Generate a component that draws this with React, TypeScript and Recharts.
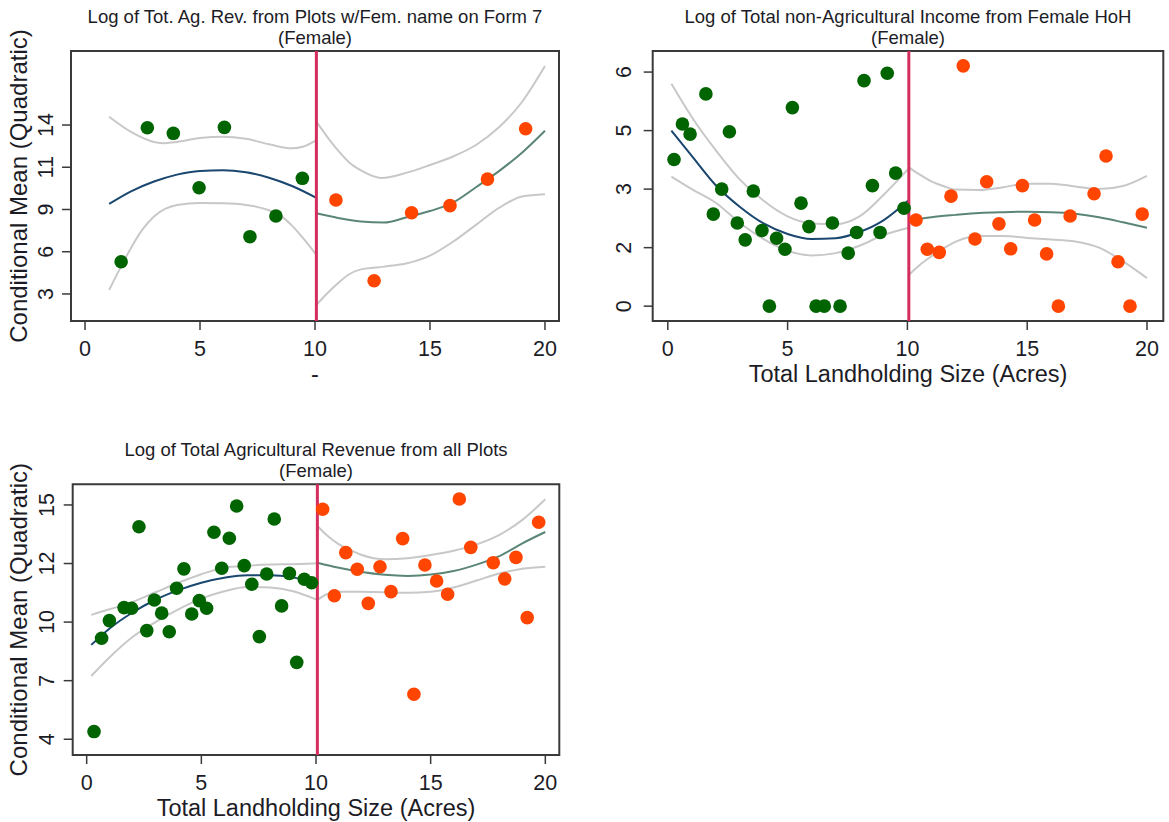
import React from 'react';
import {
  ComposedChart,
  Scatter,
  Line,
  XAxis,
  YAxis,
  ReferenceLine,
  ReferenceArea,
} from 'recharts';

const FONT = '"Liberation Sans", Arial, Helvetica, sans-serif';
const TEXT = '#1c1c26';
const GREEN = '#006400';
const ORANGE = '#ff4500';
const CUTOFF_COLOR = '#d42d5e';
const LEFT_FIT = '#1a476f';
const RIGHT_FIT = '#5b8676';
const CI = '#c8c8c8';
const FRAME = '#3a3a3a';

const Y_W = 40;
const X_H = 40;

type Pt = { x: number; y: number };
const toPts = (a: number[][]): Pt[] => a.map(([x, y]) => ({ x, y }));

const cutoff = 10.06;
const xTicks = [0, 5, 10, 15, 20];
const xTickLabels = ['0', '5', '10', '15', '20'];
const subtitle = '(Female)';
const yTitle = 'Conditional Mean (Quadratic)';
const landTitle = 'Total Landholding Size (Acres)';

// Panel 1: Log of Tot. Ag. Rev. from Plots w/Fem. name on Form 7
const p1Title = 'Log of Tot. Ag. Rev. from Plots w/Fem. name on Form 7';
const p1YTicks = [3, 5.75, 8.5, 11.25, 14];
const p1YTickLabels = ['3', '6', '9', '11', '14'];
const p1Below = [
  [1.57, 5.1], [2.71, 13.82], [3.84, 13.46], [4.96, 9.92],
  [6.06, 13.85], [7.17, 6.73], [8.3, 8.08], [9.45, 10.53],
];
const p1Above = [
  [10.91, 9.12], [12.57, 3.86], [14.2, 8.29], [15.87, 8.75], [17.5, 10.48], [19.16, 13.76],
];
const p1LeftFit = [
  [1.05, 8.86], [2, 9.68], [3, 10.32], [4, 10.77], [5, 11.01], [6, 11.06],
  [7, 10.92], [8, 10.57], [9, 10.03], [10.06, 9.26],
];
const p1LeftHi = [
  [1.05, 14.54], [2, 13.55], [3, 12.9], [3.5, 12.82], [4, 12.9], [5, 13.15], [6, 13.24],
  [7, 13.1], [8, 12.75], [9, 12.48], [9.5, 12.6], [10.06, 13.02],
];
const p1LeftLo = [
  [1.05, 3.26], [1.5, 4.6], [2, 6.0], [2.5, 7.2], [3, 8.05], [3.5, 8.55], [4, 8.8], [5, 8.92],
  [6, 8.9], [7, 8.8], [8, 8.45], [8.5, 8.1], [9, 7.45], [9.5, 6.6], [10.06, 5.54],
];
const p1RightFit = [
  [10.06, 8.25], [11, 7.95], [12, 7.72], [13, 7.65], [14, 8.0], [15, 8.4],
  [16, 8.95], [17, 9.95], [18, 11.0], [19, 12.2], [20, 13.63],
];
const p1RightHi = [
  [10.06, 14.22], [10.5, 13.3], [11, 12.35], [11.5, 11.55], [12, 11.05], [12.9, 10.55],
  [14, 10.9], [15, 11.4], [16, 11.95], [17, 12.7], [18, 13.85], [19, 15.5], [20, 17.84],
];
const p1RightLo = [
  [10.06, 2.28], [10.5, 3.0], [11, 3.7], [11.5, 4.3], [12, 4.6], [13, 4.78], [14, 5.0],
  [15, 5.5], [16, 6.4], [17, 7.5], [18, 8.6], [19, 9.35], [20, 9.5],
];

// Panel 2: Log of Total non-Agricultural Income from Female HoH
const p2Title = 'Log of Total non-Agricultural Income from Female HoH';
const p2YTicks = [0, 1.5, 3, 4.5, 6];
const p2YTickLabels = ['0', '2', '3', '5', '6'];
const p2Below = [
  [0.26, 3.76], [0.61, 4.67], [0.93, 4.41], [1.59, 5.44], [1.9, 2.36], [2.25, 3.0],
  [2.57, 4.47], [2.9, 2.13], [3.23, 1.7], [3.57, 2.95], [3.93, 1.94], [4.24, 0],
  [4.54, 1.74], [4.89, 1.46], [5.2, 5.09], [5.56, 2.64], [5.89, 2.04], [6.19, 0],
  [6.53, 0], [6.87, 2.13], [7.19, 0], [7.53, 1.36], [7.88, 1.89], [8.19, 5.78],
  [8.54, 3.09], [8.86, 1.89], [9.16, 5.97], [9.51, 3.41], [9.86, 2.51],
];
const p2Above = [
  [10.36, 2.21], [10.83, 1.46], [11.33, 1.38], [11.82, 2.82], [12.33, 6.16], [12.82, 1.72],
  [13.31, 3.19], [13.82, 2.11], [14.31, 1.47], [14.8, 3.09], [15.31, 2.21], [15.81, 1.34],
  [16.3, 0], [16.79, 2.31], [17.79, 2.88], [18.29, 3.85], [18.79, 1.14], [19.29, 0], [19.8, 2.36],
];
const p2LeftFit = [
  [0.15, 4.5], [1, 3.85], [2, 3.1], [3, 2.55], [4, 2.12], [5, 1.85],
  [6, 1.72], [7, 1.74], [8, 1.9], [9, 2.2], [10.06, 2.72],
];
const p2LeftHi = [
  [0.15, 5.7], [1, 4.85], [2, 4.0], [3, 3.25], [4, 2.7], [5, 2.3],
  [6, 2.12], [7, 2.1], [8, 2.3], [9, 2.85], [10.06, 3.53],
];
const p2LeftLo = [
  [0.15, 3.32], [1, 3.0], [2, 2.65], [3, 2.14], [4, 1.72], [5, 1.42],
  [6, 1.3], [7, 1.36], [8, 1.55], [9, 1.82], [10.06, 2.01],
];
const p2RightFit = [
  [10.06, 2.19], [11, 2.28], [12, 2.34], [13, 2.39], [14, 2.41], [15, 2.42],
  [16, 2.41], [17, 2.37], [18, 2.28], [19, 2.15], [20, 2.01],
];
const p2RightHi = [
  [10.06, 3.56], [10.5, 3.38], [11, 3.2], [11.5, 3.08], [12, 2.99], [13, 2.98], [14, 3.05],
  [15, 3.14], [16, 3.14], [17, 3.07], [18, 3.0], [19, 3.08], [20, 3.34],
];
const p2RightLo = [
  [10.06, 0.8], [10.5, 1.05], [11, 1.28], [11.5, 1.48], [12, 1.65], [13, 1.8], [14, 1.8],
  [15, 1.75], [16, 1.71], [17, 1.66], [18, 1.5], [19, 1.15], [20, 0.72],
];

// Panel 3: Log of Total Agricultural Revenue from all Plots
const p3Title = 'Log of Total Agricultural Revenue from all Plots';
const p3YTicks = [4, 6.75, 9.5, 12.25, 15];
const p3YTickLabels = ['4', '7', '10', '12', '15'];
const p3Below = [
  [0.32, 4.36], [0.65, 8.74], [0.99, 9.57], [1.63, 10.18], [1.96, 10.15], [2.28, 13.98],
  [2.62, 9.1], [2.95, 10.54], [3.27, 9.92], [3.6, 9.05], [3.92, 11.09], [4.24, 12.0],
  [4.58, 9.88], [4.91, 10.51], [5.23, 10.15], [5.55, 13.72], [5.89, 12.03], [6.22, 13.44],
  [6.54, 14.95], [6.87, 12.15], [7.2, 11.28], [7.53, 8.82], [7.85, 11.76], [8.18, 14.34],
  [8.5, 10.26], [8.84, 11.79], [9.16, 7.61], [9.49, 11.51], [9.81, 11.35],
];
const p3Above = [
  [10.29, 14.8], [10.8, 10.74], [11.3, 12.76], [11.8, 11.98], [12.28, 10.38], [12.79, 12.1],
  [13.27, 10.93], [13.78, 13.42], [14.27, 6.11], [14.75, 12.18], [15.26, 11.43], [15.74, 10.81],
  [16.25, 15.28], [16.75, 13.01], [17.73, 12.29], [18.23, 11.53], [18.72, 12.54], [19.21, 9.71],
  [19.71, 14.19],
];
const p3LeftFit = [
  [0.2, 8.43], [1, 9.2], [2, 9.95], [3, 10.55], [4, 11.0], [5, 11.35],
  [6, 11.58], [7, 11.7], [8, 11.7], [9, 11.6], [10.06, 11.32],
];
const p3LeftHi = [
  [0.2, 9.84], [1, 10.1], [2, 10.45], [3, 10.9], [4, 11.35], [5, 11.75],
  [6, 12.05], [7, 12.15], [8, 12.2], [9, 12.22], [10.06, 12.26],
];
const p3LeftLo = [
  [0.2, 6.97], [1, 7.85], [2, 8.8], [3, 9.5], [4, 10.1], [5, 10.6],
  [6, 10.95], [7, 11.15], [8, 11.12], [9, 10.95], [10.06, 10.54],
];
const p3RightFit = [
  [10.06, 12.29], [11, 12.05], [12, 11.85], [13, 11.72], [14, 11.67], [15, 11.73],
  [16, 11.9], [17, 12.2], [18, 12.6], [19, 13.2], [20, 13.73],
];
const p3RightHi = [
  [10.06, 14.01], [10.5, 13.55], [11, 13.15], [11.5, 12.88], [12, 12.65], [13, 12.45], [14, 12.5],
  [15, 12.65], [16, 12.85], [17, 13.15], [18, 13.6], [19, 14.3], [20, 15.27],
];
const p3RightLo = [
  [10.06, 10.54], [10.5, 10.82], [11, 10.92], [12, 10.93], [13, 10.9], [14, 10.88], [15, 10.92],
  [16, 11.12], [17, 11.45], [18, 11.78], [19, 12.0], [20, 12.1],
];

interface PanelProps {
  left: number;
  top: number;
  width: number;
  height: number;
  plot: { x0: number; y0: number; x1: number; y1: number };
  xDomain: [number, number];
  yDomain: [number, number];
  yTicks: number[];
  yTickLabels: string[];
  yLabelGap: number;
  title: string;
  xTitle?: string;
  yTitle?: string;
  below: number[][];
  above: number[][];
  lines: { data: number[][]; color: string }[];
}

const dot = (color: string) => (p: any) => (
  <circle cx={p.cx} cy={p.cy} r={6.8} fill={color} />
);

function Panel(props: PanelProps) {
  const { left, top, width, height, plot, xDomain, yDomain, yTicks, yTickLabels } = props;
  const midX = (plot.x0 + plot.x1) / 2;
  const midY = (plot.y0 + plot.y1) / 2;
  const yLabX = plot.x0 - props.yLabelGap;

  return (
    <div style={{ position: 'absolute', left, top, width, height }}>
      <ComposedChart
        width={width}
        height={height}
        margin={{
          top: plot.y0,
          left: plot.x0 - Y_W,
          right: width - plot.x1,
          bottom: height - plot.y1 - X_H,
        }}
      >
        <XAxis
          type="number"
          dataKey="x"
          domain={xDomain}
          ticks={xTicks}
          interval={0}
          allowDataOverflow
          axisLine={false}
          tickLine={{ stroke: FRAME, strokeWidth: 1.5 }}
          tickSize={9}
          height={X_H}
          tick={(t: any) => (
            <text
              x={t.x}
              y={plot.y1 + 35}
              textAnchor="middle"
              fontSize={21.5}
              fontFamily={FONT}
              fill={TEXT}
            >
              {xTickLabels[xTicks.indexOf(t.payload.value)]}
            </text>
          )}
          label={
            props.xTitle
              ? () => (
                  <text
                    x={midX}
                    y={plot.y1 + 61}
                    textAnchor="middle"
                    fontSize={23.5}
                    fontFamily={FONT}
                    fill={TEXT}
                  >
                    {props.xTitle}
                  </text>
                )
              : undefined
          }
        />
        <YAxis
          type="number"
          dataKey="y"
          domain={yDomain}
          ticks={yTicks}
          interval={0}
          allowDataOverflow
          axisLine={false}
          tickLine={{ stroke: FRAME, strokeWidth: 1.5 }}
          tickSize={9}
          width={Y_W}
          tick={(t: any) => (
            <text
              x={yLabX}
              y={t.y}
              dy="0.36em"
              transform={`rotate(-90 ${yLabX} ${t.y})`}
              textAnchor="middle"
              fontSize={21.5}
              fontFamily={FONT}
              fill={TEXT}
            >
              {yTickLabels[yTicks.indexOf(t.payload.value)]}
            </text>
          )}
          label={
            props.yTitle
              ? () => (
                  <text
                    x={18}
                    y={midY}
                    dy="0.36em"
                    transform={`rotate(-90 18 ${midY})`}
                    textAnchor="middle"
                    fontSize={24}
                    fontFamily={FONT}
                    fill={TEXT}
                  >
                    {props.yTitle}
                  </text>
                )
              : undefined
          }
        />
        {props.lines.map((l, i) => (
          <Line
            key={i}
            data={toPts(l.data)}
            dataKey="y"
            type="monotone"
            stroke={l.color}
            strokeWidth={2}
            dot={false}
            activeDot={false}
            isAnimationActive={false}
          />
        ))}
        <ReferenceLine x={cutoff} stroke={CUTOFF_COLOR} strokeWidth={3} />
        <Scatter data={toPts(props.below)} shape={dot(GREEN)} isAnimationActive={false} />
        <Scatter data={toPts(props.above)} shape={dot(ORANGE)} isAnimationActive={false} />
        <ReferenceArea
          x1={xDomain[0]}
          x2={xDomain[1]}
          y1={yDomain[0]}
          y2={yDomain[1]}
          fill="none"
          fillOpacity={0}
          stroke={FRAME}
          strokeWidth={2}
          ifOverflow="visible"
        />
      </ComposedChart>
      <svg
        width={width}
        height={60}
        style={{ position: 'absolute', left: 0, top: 0, pointerEvents: 'none' }}
      >
        <text x={midX} y={plot.y0 - 28.5} textAnchor="middle" fontSize={18.5} fontFamily={FONT} fill={TEXT}>
          {props.title}
        </text>
        <text x={midX} y={plot.y0 - 7.5} textAnchor="middle" fontSize={18.5} fontFamily={FONT} fill={TEXT}>
          {subtitle}
        </text>
      </svg>
    </div>
  );
}

export default function App() {
  return (
    <div
      style={{
        position: 'absolute',
        left: 0,
        top: 0,
        width: 1169,
        height: 822,
        background: '#fff',
      }}
    >
      <Panel
        left={0}
        top={0}
        width={580}
        height={400}
        plot={{ x0: 71, y0: 51, x1: 559, y1: 321 }}
        xDomain={[-0.61, 20.61]}
        yDomain={[1.24, 18.82]}
        yTicks={p1YTicks}
        yTickLabels={p1YTickLabels}
        yLabelGap={26}
        title={p1Title}
        xTitle="-"
        yTitle={yTitle}
        below={p1Below}
        above={p1Above}
        lines={[
          { data: p1LeftHi, color: CI },
          { data: p1LeftLo, color: CI },
          { data: p1RightHi, color: CI },
          { data: p1RightLo, color: CI },
          { data: p1LeftFit, color: LEFT_FIT },
          { data: p1RightFit, color: RIGHT_FIT },
        ]}
      />
      <Panel
        left={580}
        top={0}
        width={589}
        height={400}
        plot={{ x0: 72.7, y0: 51, x1: 583.3, y1: 321 }}
        xDomain={[-0.63, 20.68]}
        yDomain={[-0.38, 6.54]}
        yTicks={p2YTicks}
        yTickLabels={p2YTickLabels}
        yLabelGap={29}
        title={p2Title}
        xTitle={landTitle}
        below={p2Below}
        above={p2Above}
        lines={[
          { data: p2LeftHi, color: CI },
          { data: p2LeftLo, color: CI },
          { data: p2RightHi, color: CI },
          { data: p2RightLo, color: CI },
          { data: p2LeftFit, color: LEFT_FIT },
          { data: p2RightFit, color: RIGHT_FIT },
        ]}
      />
      <Panel
        left={0}
        top={430}
        width={580}
        height={392}
        plot={{ x0: 72.7, y0: 54.3, x1: 559.3, y1: 325 }}
        xDomain={[-0.61, 20.61]}
        yDomain={[3.26, 15.97]}
        yTicks={p3YTicks}
        yTickLabels={p3YTickLabels}
        yLabelGap={26}
        title={p3Title}
        xTitle={landTitle}
        yTitle={yTitle}
        below={p3Below}
        above={p3Above}
        lines={[
          { data: p3LeftHi, color: CI },
          { data: p3LeftLo, color: CI },
          { data: p3RightHi, color: CI },
          { data: p3RightLo, color: CI },
          { data: p3LeftFit, color: LEFT_FIT },
          { data: p3RightFit, color: RIGHT_FIT },
        ]}
      />
    </div>
  );
}
